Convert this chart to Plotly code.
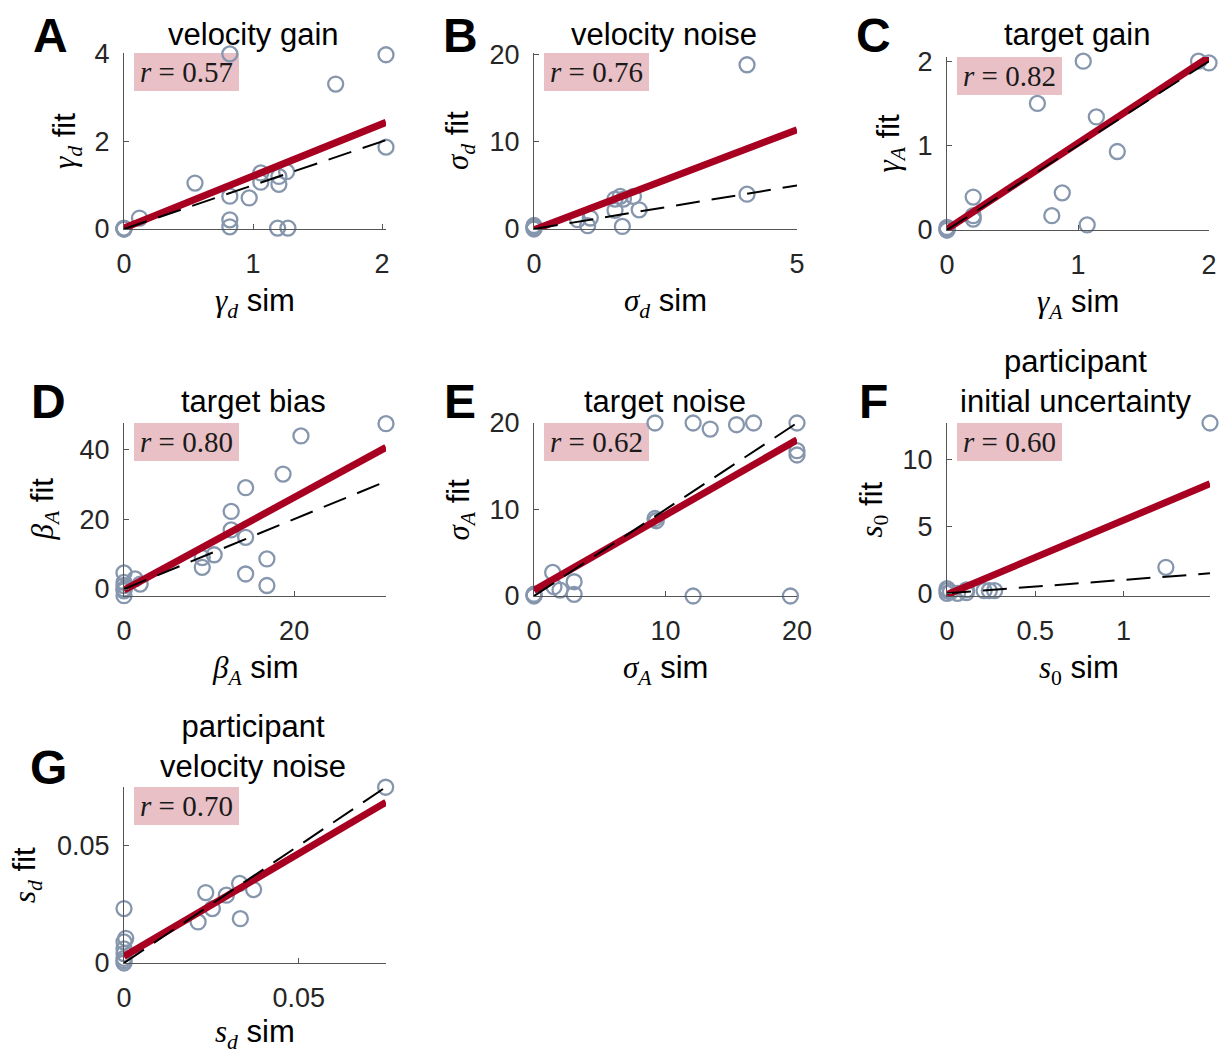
import plotly.graph_objects as go

W, H = 1223, 1055

# ---------------- data ----------------
panel_letters = ["A", "B", "C", "D", "E", "F", "G"]
panel_titles = ["velocity gain", "velocity noise", "target gain", "target bias",
                "target noise", "participant<br>initial uncertainty",
                "participant<br>velocity noise"]
r_values = [0.57, 0.76, 0.82, 0.80, 0.62, 0.60, 0.70]

vel_gain_sim = [0, 0, 0, 0, 0.12, 0.55, 0.82, 0.82, 0.82, 0.82, 0.97, 1.06, 1.06, 1.2, 1.2, 1.26, 1.19, 1.27, 1.64, 2.03, 2.03]
vel_gain_fit = [0, 0.01, 0, 0.02, 0.25, 1.05, 4.0, 0.75, 0.21, 0.05, 0.71, 1.28, 1.07, 1.2, 1.02, 1.31, 0.02, 0.02, 3.31, 3.98, 1.87]

vel_noise_sim = [0, 0, 0, 0, 0.83, 1.02, 1.07, 1.54, 1.54, 1.64, 1.70, 1.89, 2.0, 1.68, 4.05, 4.05]
vel_noise_fit = [0, 0.2, 0.4, 0.1, 1.07, 0.38, 1.26, 2.14, 3.44, 3.75, 3.44, 3.75, 2.2, 0.3, 18.85, 4.0]

tgt_gain_sim = [0, 0, 0, 0, 0.2, 0.2, 0.2, 0.69, 0.8, 0.88, 1.04, 1.07, 1.14, 1.30, 1.92, 2.0]
tgt_gain_fit = [0, 0.02, 0.03, 0, 0.39, 0.17, 0.13, 1.50, 0.17, 0.44, 2.0, 0.06, 1.34, 0.93, 2.0, 1.98]

tgt_bias_sim = [0, 0, 0, 0, 0, 0, 1.3, 1.9, 9.2, 9.2, 10.6, 12.6, 12.6, 14.3, 14.3, 14.3, 16.8, 16.8, 18.7, 20.8, 30.8]
tgt_bias_fit = [4.6, 0, -1.9, 1.9, 1.0, -0.5, 2.9, 1.4, 6.2, 9.0, 9.8, 22.2, 16.9, 29.0, 14.8, 4.3, 8.6, 1.0, 32.9, 43.8, 47.3]

tgt_noise_sim = [0, 0, 0, 1.42, 1.52, 1.98, 3.05, 3.05, 9.2, 9.2, 9.3, 12.1, 12.1, 13.4, 15.4, 16.7, 19.5, 20, 20, 20]
tgt_noise_fit = [0, 0.1, 0.2, 2.73, 1.08, 0.69, 1.65, 0.19, 20, 8.96, 8.7, 20, 0, 19.3, 19.8, 20, 0, 20, 16.8, 16.3]

init_unc_sim = [0, 0, 0, 0.02, 0.06, 0.11, 0.11, 0.21, 0.24, 0.27, 1.24, 1.49]
init_unc_fit = [0, 0.2, 0.35, 0.1, 0, 0.25, 0.05, 0.2, 0.2, 0.2, 1.94, 12.7]

p_vel_noise_sim = [0, 0, 0, 0, 0, 0, 0.0005, 0, 0.0212, 0.0234, 0.0253, 0.0293, 0.0331, 0.0333, 0.0371, 0.0749]
p_vel_noise_fit = [0, 0.001, 0.002, 0.0232, 0.006, 0.004, 0.0105, 0.009, 0.0175, 0.030, 0.0232, 0.0289, 0.0339, 0.0189, 0.0313, 0.0749]

# regression line (intercept, slope)
fit_intercepts = [0.02, -0.1, 0.01, -0.3, 0.65, -0.1, 0.0028]
fit_slopes = [1.19, 2.30, 1.02, 1.325, 0.87, 5.55, 0.876]

x_ranges = [[0, 2.03], [0, 5], [0, 2.0], [0, 30.8], [0, 20], [0, 1.49], [0, 0.075]]
y_ranges = [[0, 4.02], [0, 20.2], [0, 2.05], [-2, 47.5], [0, 20], [-0.2, 12.7], [0, 0.075]]
x_ticks = [[0, 1, 2], [0, 5], [0, 1, 2], [0, 20], [0, 10, 20], [0, 0.5, 1], [0, 0.05]]
y_ticks = [[0, 2, 4], [0, 10, 20], [0, 1, 2], [0, 20, 40], [0, 10, 20], [0, 5, 10], [0, 0.05]]

sims = [vel_gain_sim, vel_noise_sim, tgt_gain_sim, tgt_bias_sim, tgt_noise_sim, init_unc_sim, p_vel_noise_sim]
fits = [vel_gain_fit, vel_noise_fit, tgt_gain_fit, tgt_bias_fit, tgt_noise_fit, init_unc_fit, p_vel_noise_fit]

# ---------------- style / layout ----------------
SERIF = "Liberation Serif"
SANS = "Liberation Sans, Arial, sans-serif"


def m(s):
    return f'<span style="font-family:{SERIF}">{s}</span>'


sym = [m("<i>γ</i><sub><i>d</i></sub>"), m("<i>σ</i><sub><i>d</i></sub>"),
       m("<i>γ</i><sub><i>A</i></sub>"), m("<i>β</i><sub><i>A</i></sub>"),
       m("<i>σ</i><sub><i>A</i></sub>"), m("<i>s</i><sub>0</sub>"),
       m("<i>s</i><sub><i>d</i></sub>")]

# axes rectangles in pixels: left, right, top, bottom
rects = [(124, 386, 53, 229), (534, 797, 53, 229), (947, 1209, 57, 230),
         (124, 386, 423, 596), (534, 797, 423, 596), (947, 1210, 423, 596),
         (124, 386, 787, 963)]
letter_pos = [(50, 35), (460, 35), (873, 35), (48, 401), (460, 401), (873, 401), (48, 767)]
title_pos = [(253, 34), (664, 34), (1077, 34), (253, 401), (665, 401), (1075, 381), (253, 746)]
ytitle_x = [67, 460, 890, 44, 460, 873, 27]
xtitle_dy = [74, 74, 74, 74, 74, 74, 71]

MARKER = "rgb(134,150,173)"
RED = "rgb(168,0,32)"
PINK = "rgb(232,192,198)"
AXC = "#555555"


def px(x):
    return x / W


def py(y):
    return 1 - y / H


fig = go.Figure()
layout = dict(width=W, height=H, margin=dict(l=0, r=0, t=0, b=0, autoexpand=False),
              autosize=False,
              paper_bgcolor="white", plot_bgcolor="white", showlegend=False,
              font=dict(family=SANS, size=27, color="#262626"))
annotations = []
shapes = []

for i in range(7):
    L, R, T, B = rects[i]
    xa = "xaxis" if i == 0 else f"xaxis{i+1}"
    ya = "yaxis" if i == 0 else f"yaxis{i+1}"
    xr = "x" if i == 0 else f"x{i+1}"
    yr = "y" if i == 0 else f"y{i+1}"
    axis_common = dict(showgrid=False, zeroline=False, showline=True, linecolor=AXC,
                       linewidth=1, ticks="inside", ticklen=5, tickcolor=AXC,
                       automargin=False,
                       tickfont=dict(size=27, color="#262626", family=SANS))
    layout[xa] = dict(domain=[px(L), px(R)], anchor=yr, range=x_ranges[i],
                      tickvals=x_ticks[i], ticktext=[f"{v:g}" for v in x_ticks[i]],
                      ticklabelstandoff=11, **axis_common)
    layout[ya] = dict(domain=[py(B), py(T)], anchor=xr, range=y_ranges[i],
                      tickvals=y_ticks[i], ticktext=[f"{v:g}" for v in y_ticks[i]],
                      ticklabelstandoff=8, **axis_common)

    xs, ys = sims[i], fits[i]
    fig.add_trace(go.Scatter(x=xs, y=ys, mode="markers", xaxis=xr, yaxis=yr,
                             cliponaxis=False,
                             marker=dict(symbol="circle-open", size=15,
                                         line=dict(width=2.3, color=MARKER), color=MARKER)))
    x0, x1 = x_ranges[i]
    fig.add_trace(go.Scatter(x=[x0, x1],
                             y=[fit_intercepts[i] + fit_slopes[i] * x0,
                                fit_intercepts[i] + fit_slopes[i] * x1],
                             mode="lines", xaxis=xr, yaxis=yr,
                             line=dict(color=RED, width=7)))
    fig.add_trace(go.Scatter(x=[x0, x1], y=[x0, x1], mode="lines", xaxis=xr, yaxis=yr,
                             line=dict(color="black", width=2, dash="24px,12px")))

    # r box
    shapes.append(dict(type="rect", xref="paper", yref="paper", layer="below",
                       x0=px(L + 10), x1=px(L + 115), y0=py(T + 38), y1=py(T),
                       fillcolor=PINK, line=dict(width=0)))
    annotations.append(dict(xref="paper", yref="paper", x=px(L + 62.5), y=py(T + 19),
                            xanchor="center", yanchor="middle", showarrow=False,
                            text=f"<i>r</i> = {r_values[i]:.2f}",
                            font=dict(family=SERIF, size=29, color="#1a1a1a")))
    # panel letter
    lx, ly = letter_pos[i]
    annotations.append(dict(xref="paper", yref="paper", x=px(lx), y=py(ly),
                            xanchor="center", yanchor="middle", showarrow=False,
                            text=f"<b>{panel_letters[i]}</b>",
                            font=dict(family=SANS, size=48, color="black")))
    # title
    tx, ty = title_pos[i]
    annotations.append(dict(xref="paper", yref="paper", x=px(tx), y=py(ty),
                            xanchor="center", yanchor="middle", showarrow=False,
                            text=panel_titles[i],
                            font=dict(family=SANS, size=31, color="black")))
    # x title
    annotations.append(dict(xref="paper", yref="paper", x=px((L + R) / 2), y=py(B + xtitle_dy[i]),
                            xanchor="center", yanchor="middle", showarrow=False,
                            text=f"{sym[i]} sim",
                            font=dict(family=SANS, size=31, color="black")))
    # y title
    annotations.append(dict(xref="paper", yref="paper", x=px(ytitle_x[i]), y=py((T + B) / 2),
                            xanchor="center", yanchor="middle", showarrow=False,
                            textangle=-90, text=f"{sym[i]} fit",
                            font=dict(family=SANS, size=31, color="black")))

layout["annotations"] = annotations
layout["shapes"] = shapes
fig.update_layout(**layout)
fig.write_html("out.html", config={"responsive": False, "displayModeBar": False},
               post_script="document.body.style.margin='0px';document.body.style.overflow='hidden';")
